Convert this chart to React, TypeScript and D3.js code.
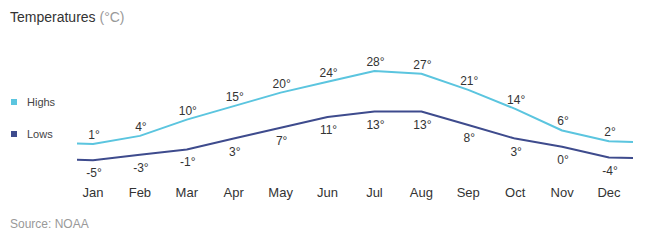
import React, { useEffect, useRef } from 'react';
import * as d3 from 'd3';

const months = ['Jan', 'Feb', 'Mar', 'Apr', 'May', 'Jun', 'Jul', 'Aug', 'Sep', 'Oct', 'Nov', 'Dec'];
const highs = [1, 4, 10, 15, 20, 24, 28, 27, 21, 14, 6, 2];
const lows = [-5, -3, -1, 3, 7, 11, 13, 13, 8, 3, 0, -4];
const seriesNames = ['Highs', 'Lows'];
const seriesColors = ['#5bc5df', '#3e4b8d'];

const Chart = () => {
  const ref = useRef<SVGSVGElement>(null);

  useEffect(() => {
    const svg = d3.select(ref.current);
    svg.selectAll('*').remove();

    const width = 645, height = 240;
    const font = 'Arial, "Liberation Sans", sans-serif';

    svg.attr('width', width).attr('height', height).style('display', 'block');

    // title
    const title = svg.append('text')
      .attr('x', 10).attr('y', 22)
      .style('font-family', font).style('font-size', '14px').attr('fill', '#333');
    title.append('tspan').text('Temperatures');
    title.append('tspan').attr('fill', '#999').text(' (°C)');

    const x = d3.scalePoint<string>()
      .domain(months)
      .range([93, 609]);

    const y = d3.scaleLinear()
      .domain([0, 28])
      .range([146.7, 71]);

    // lines run a little past the first and last month
    const left = 77, right = 633;

    const line = d3.line<[number, number]>()
      .x(d => d[0])
      .y(d => d[1])
      .curve(d3.curveLinear);

    const series = [highs, lows];
    series.forEach((vals, i) => {
      const pts: [number, number][] = vals.map((v, j) => [x(months[j])!, y(v)]);
      pts.unshift([left, y(vals[0]) - 0.5]);
      pts.push([right, y(vals[vals.length - 1]) + 0.6]);

      svg.append('path')
        .attr('d', line(pts))
        .attr('fill', 'none')
        .attr('stroke', seriesColors[i])
        .attr('stroke-width', 2)
        .attr('stroke-linejoin', 'round');

      svg.append('g').selectAll('text')
        .data(vals)
        .join('text')
        .attr('x', (d, j) => x(months[j])! + 1)
        .attr('y', d => i === 0 ? y(d) - 5 : y(d) + 17)
        .attr('text-anchor', 'middle')
        .style('font-family', font).style('font-size', '12px')
        .attr('fill', '#333')
        .text(d => d + '°');

      // legend
      const ly = 102 + i * 32;
      svg.append('rect')
        .attr('x', 11).attr('y', ly - 3)
        .attr('width', 6).attr('height', 6)
        .attr('fill', seriesColors[i]);
      svg.append('text')
        .attr('x', 27).attr('y', ly + 4)
        .style('font-family', font).style('font-size', '11px')
        .attr('fill', '#444')
        .text(seriesNames[i]);
    });

    // month axis labels
    svg.append('g').selectAll('text')
      .data(months)
      .join('text')
      .attr('x', d => x(d)!)
      .attr('y', 197)
      .attr('text-anchor', 'middle')
      .style('font-family', font).style('font-size', '13px')
      .attr('fill', '#333')
      .text(d => d);

    svg.append('text')
      .attr('x', 10).attr('y', 228)
      .style('font-family', font).style('font-size', '12px')
      .attr('fill', '#999')
      .text('Source: NOAA');
  }, []);

  return <svg ref={ref}></svg>;
};

export default function App() {
  return (
    <div style={{ margin: -8 }}>
      <Chart />
    </div>
  );
}
